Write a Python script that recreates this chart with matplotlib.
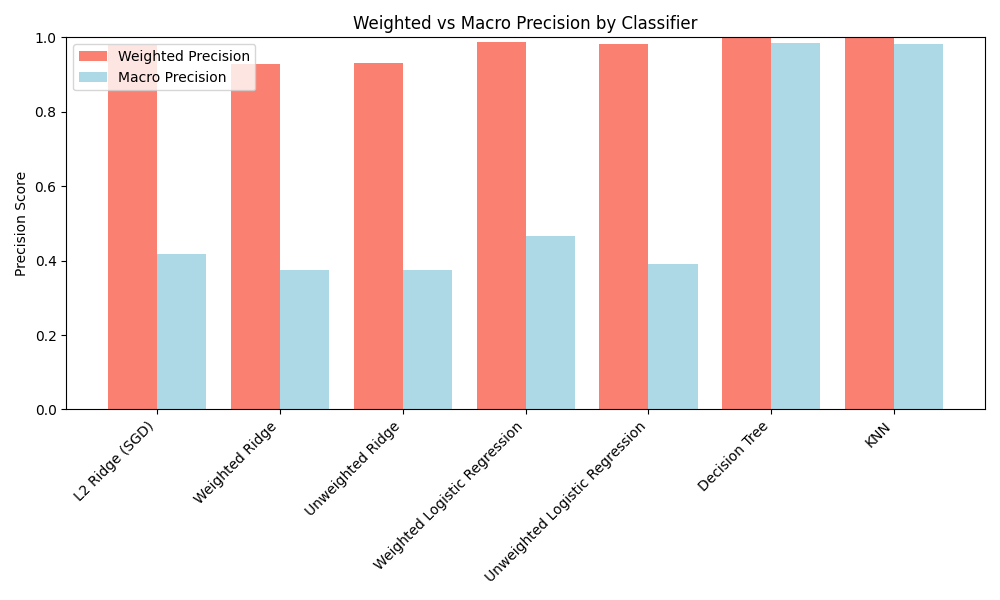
import numpy as np
import matplotlib.pyplot as plt

classifiers = ["L2 Ridge (SGD)", "Weighted Ridge", "Unweighted Ridge",
               "Weighted Logistic Regression", "Unweighted Logistic Regression",
               "Decision Tree", "KNN"]
weighted_precision = [0.980, 0.927, 0.930, 0.987, 0.981, 0.999, 0.999]
macro_precision = [0.419, 0.374, 0.376, 0.465, 0.392, 0.984, 0.981]

x = np.arange(len(classifiers))
width = 0.4

fig, ax = plt.subplots(figsize=(10, 6), dpi=100)
ax.bar(x - width / 2, weighted_precision, width, color="salmon", label="Weighted Precision")
ax.bar(x + width / 2, macro_precision, width, color="lightblue", label="Macro Precision")

ax.set_xticks(x)
ax.set_xticklabels(classifiers, rotation=45, ha="right")
ax.set_ylabel("Precision Score")
ax.set_title("Weighted vs Macro Precision by Classifier")
ax.set_ylim(0, 1)
ax.legend(loc="upper left")

fig.tight_layout()
fig.savefig("out.png")
